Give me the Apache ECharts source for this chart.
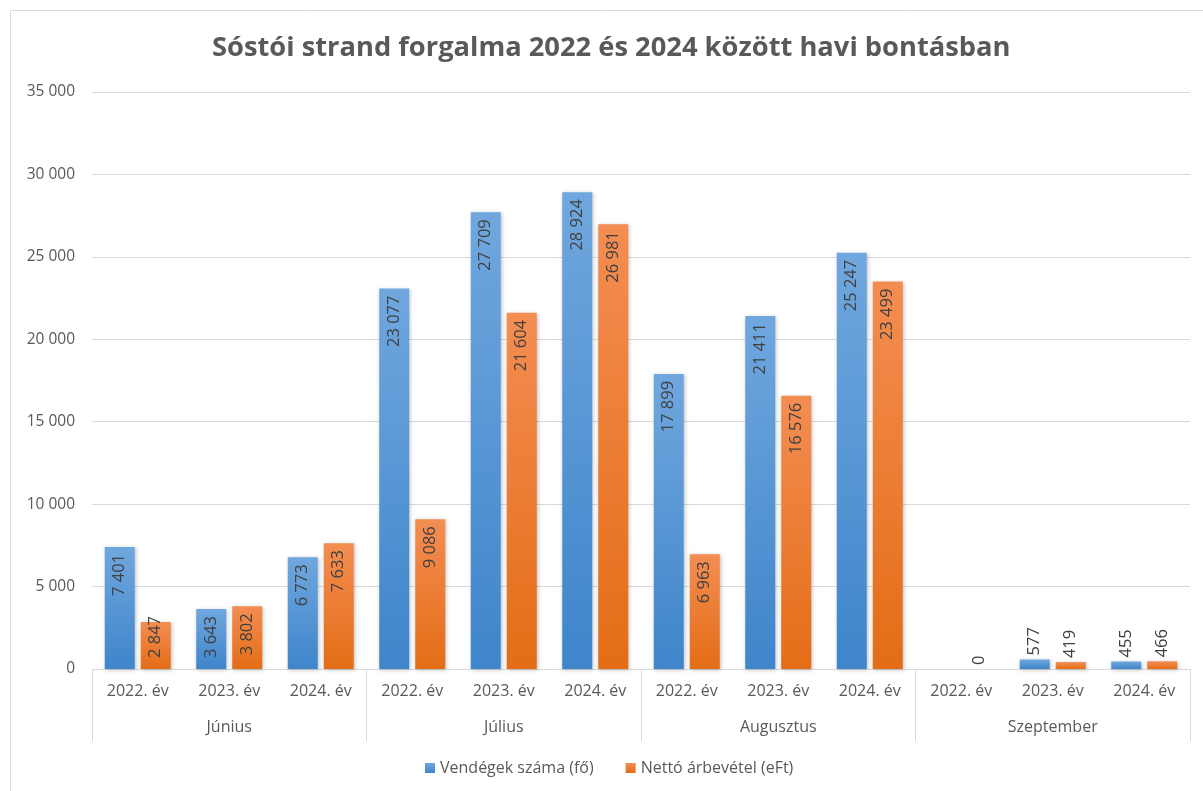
<!DOCTYPE html>
<html>
<head>
<meta charset="utf-8">
<script src="https://cdn.jsdelivr.net/npm/echarts@6/dist/echarts.min.js"></script>
<style>
  html, body { margin: 0; padding: 0; background: #fff; }
  #chart { width: 1203px; height: 791px; }
</style>
</head>
<body>
<div id="chart"></div>
<script>
const months = ['Június', 'Július', 'Augusztus', 'Szeptember']
const years = ['2022. év', '2023. év', '2024. év']
const categories = months.flatMap(() => years)
// null = no value shown (2022 szeptember, vendégek)
const vendegek = [7401, 3643, 6773, 23077, 27709, 28924, 17899, 21411, 25247, null, 577, 455]
const netto = [2847, 3802, 7633, 9086, 21604, 26981, 6963, 16576, 23499, 0, 419, 466]
const yTicks = [0, 5000, 10000, 15000, 20000, 25000, 30000, 35000]

const fmt = v => String(v).replace(/\B(?=(\d{3})+(?!\d))/g, ' ')
const font = 'Open Sans'

// label placement like Excel: inside top, spill out for tiny bars
const labelFor = v => {
  const base = { show: true, rotate: 90, color: '#404040', fontSize: 16.5, fontFamily: font,
    formatter: p => fmt(p.value), verticalAlign: 'middle' }
  if (v < 1500) return { ...base, position: 'top', align: 'left', distance: 4 }
  if (v < 3500) return { ...base, position: 'insideBottom', align: 'left', distance: 11 }
  return { ...base, position: 'insideTop', align: 'right', distance: 7 }
}
const buildData = arr => arr.map(v => v === null ? null : { value: v, label: labelFor(v) })

const gradient = (top, bottom) => new echarts.graphic.LinearGradient(0, 0, 0, 1, [
  { offset: 0, color: top },
  { offset: 1, color: bottom }
])

const chart = echarts.init(document.getElementById('chart'))
chart.setOption({
  animation: false,
  textStyle: { fontFamily: font },
  graphic: [{
    type: 'rect',
    shape: { x: 10.5, y: 10.5, width: 1200, height: 800 },
    style: { fill: 'none', stroke: '#d9d9d9', lineWidth: 1 },
    silent: true
  }],
  title: {
    text: 'Sóstói strand forgalma 2022 és 2024 között havi bontásban',
    left: 207,
    top: 30,
    textStyle: { fontSize: 27.3, fontWeight: 'bold', color: '#595959', fontFamily: font }
  },
  legend: {
    bottom: 10,
    left: 420,
    icon: 'rect',
    itemWidth: 10,
    itemHeight: 10,
    itemGap: 32,
    textStyle: { fontSize: 16, color: '#595959', fontFamily: font },
    data: ['Vendégek száma (fő)', 'Nettó árbevétel (eFt)']
  },
  grid: { left: 92, right: 13, top: 92, bottom: 122 },
  xAxis: [{
    type: 'category',
    data: categories,
    axisLine: { lineStyle: { color: '#d9d9d9' } },
    axisTick: { show: false },
    axisLabel: { interval: 0, margin: 14, fontSize: 16, color: '#595959', fontFamily: font }
  }, {
    type: 'category',
    data: months,
    position: 'bottom',
    axisLine: { show: false },
    axisTick: { show: true, length: 72, lineStyle: { color: '#d9d9d9' } },
    axisLabel: { interval: 0, margin: 50, fontSize: 16, color: '#595959', fontFamily: font }
  }],
  yAxis: {
    type: 'value',
    min: yTicks[0],
    max: yTicks[yTicks.length - 1],
    interval: 5000,
    axisLine: { show: false },
    axisTick: { show: false },
    splitLine: { lineStyle: { color: '#d9d9d9' } },
    axisLabel: { margin: 17, fontSize: 15.5, color: '#595959', fontFamily: font, formatter: v => fmt(v) }
  },
  series: [{
    name: 'Vendégek száma (fő)',
    type: 'bar',
    xAxisIndex: 0,
    data: buildData(vendegek),
    barWidth: 30,
    barGap: '20%',
    itemStyle: {
      color: gradient('#70a7de', '#3e85cb'),
      shadowBlur: 4, shadowColor: 'rgba(0,0,0,0.25)', shadowOffsetX: 1, shadowOffsetY: 1
    }
  }, {
    name: 'Nettó árbevétel (eFt)',
    type: 'bar',
    xAxisIndex: 0,
    data: buildData(netto),
    barWidth: 30,
    barGap: '20%',
    itemStyle: {
      color: gradient('#f38d52', '#e46d16'),
      shadowBlur: 4, shadowColor: 'rgba(0,0,0,0.25)', shadowOffsetX: 1, shadowOffsetY: 1
    }
  }]
})
</script>
</body>
</html>
